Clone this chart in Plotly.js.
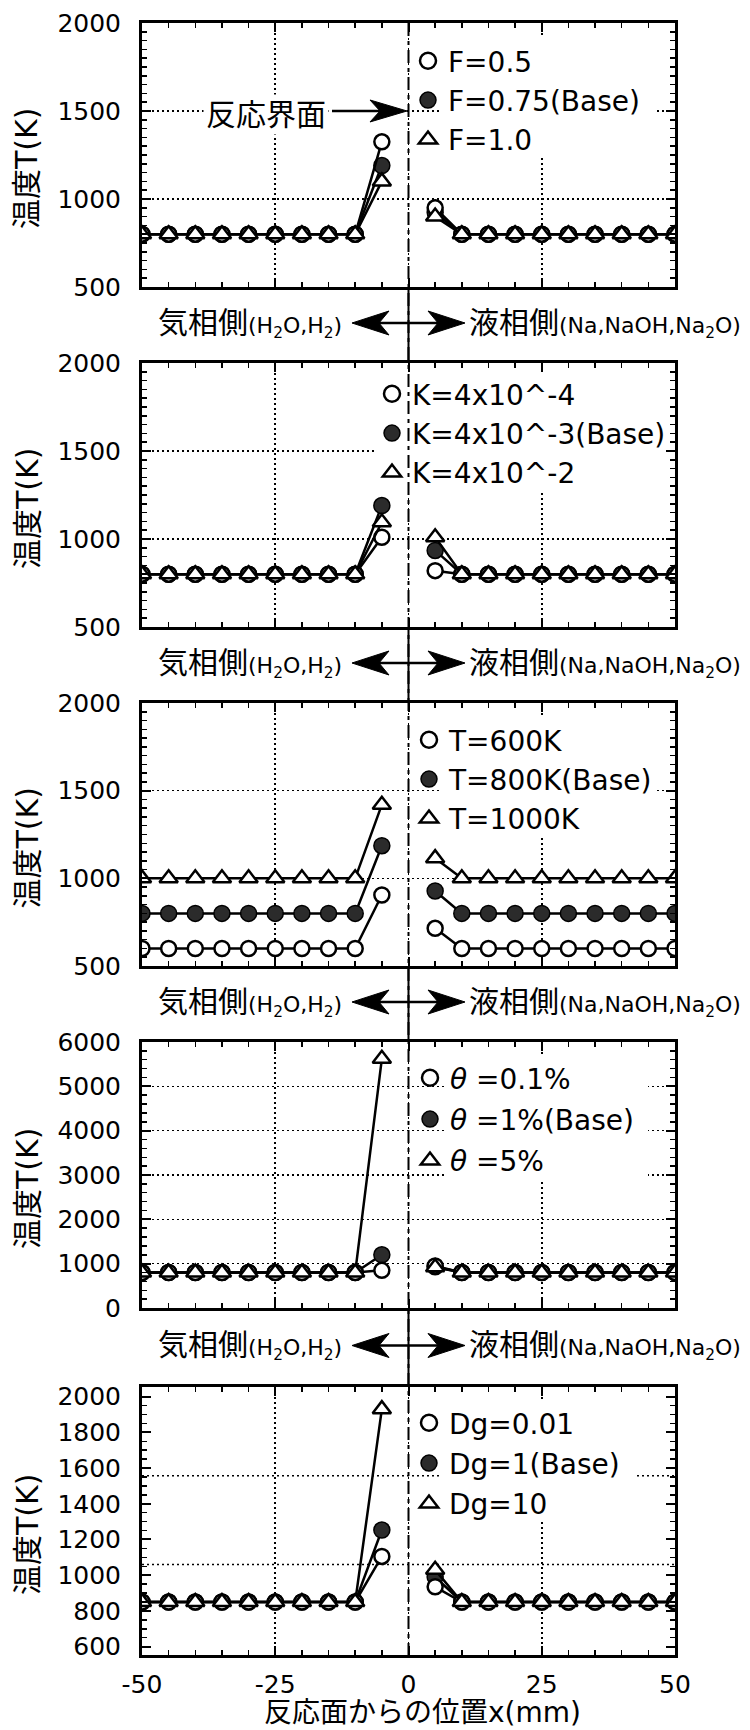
<!DOCTYPE html>
<html><head><meta charset="utf-8">
<script src="https://cdn.plot.ly/plotly-3.0.1.min.js"></script>
<style>body{margin:0;background:#fff}#chart{width:750px;height:1730px}</style>
</head><body><div id="chart"></div>
<script>
// ---------- data ----------
const xGas = [-50,-45,-40,-35,-30,-25,-20,-15,-10,-5];
const xLiq = [5,10,15,20,25,30,35,40,45,50];
const xTickVals = [-50,-25,0,25,50];
const xTickText = ['-50','-25','0','25','50'];

// Panel 1 : F
const namesF = ['F=0.5','F=0.75(Base)','F=1.0'];
const F05_gas  = [800,800,800,800,800,800,800,800,800,1325];
const F05_liq  = [950,800,800,800,800,800,800,800,800,800];
const F075_gas = [800,800,800,800,800,800,800,800,800,1190];
const F075_liq = [925,800,800,800,800,800,800,800,800,800];
const F10_gas  = [800,800,800,800,800,800,800,800,800,1100];
const F10_liq  = [900,800,800,800,800,800,800,800,800,800];

// Panel 2 : K
const namesK = ['K=4x10^-4','K=4x10^-3(Base)','K=4x10^-2'];
const K4m4_gas = [800,800,800,800,800,800,800,800,800,1010];
const K4m4_liq = [820,800,800,800,800,800,800,800,800,800];
const K4m3_gas = [800,800,800,800,800,800,800,800,800,1190];
const K4m3_liq = [935,800,800,800,800,800,800,800,800,800];
const K4m2_gas = [800,800,800,800,800,800,800,800,800,1095];
const K4m2_liq = [1010,800,800,800,800,800,800,800,800,800];

// Panel 3 : T
const namesT = ['T=600K','T=800K(Base)','T=1000K'];
const T600_gas  = [600,600,600,600,600,600,600,600,600,905];
const T600_liq  = [715,600,600,600,600,600,600,600,600,600];
const T800_gas  = [800,800,800,800,800,800,800,800,800,1186];
const T800_liq  = [928,800,800,800,800,800,800,800,800,800];
const T1000_gas = [1000,1000,1000,1000,1000,1000,1000,1000,1000,1420];
const T1000_liq = [1115,1000,1000,1000,1000,1000,1000,1000,1000,1000];

// Panel 4 : theta
const namesTh = ['<i>θ</i> =0.1%','<i>θ</i> =1%(Base)','<i>θ</i> =5%'];
const Th01_gas = [800,800,800,800,800,800,800,800,800,850];
const Th01_liq = [950,800,800,800,800,800,800,800,800,800];
const Th1_gas  = [800,800,800,800,800,800,800,800,800,1200];
const Th1_liq  = [930,800,800,800,800,800,800,800,800,800];
const Th5_gas  = [800,800,800,800,800,800,800,800,800,5620];
const Th5_liq  = [920,800,800,800,800,800,800,800,800,800];

// Panel 5 : Dg
const namesDg = ['Dg=0.01','Dg=1(Base)','Dg=10'];
const Dg001_gas = [850,850,850,850,850,850,850,850,850,1105];
const Dg001_liq = [935,850,850,850,850,850,850,850,850,850];
const Dg1_gas   = [850,850,850,850,850,850,850,850,850,1253];
const Dg1_liq   = [990,850,850,850,850,850,850,850,850,850];
const Dg10_gas  = [850,850,850,850,850,850,850,850,850,1930];
const Dg10_liq  = [1030,850,850,850,850,850,850,850,850,850];

const yTicksA = [500,1000,1500,2000];
const yTicks4 = [0,1000,2000,3000,4000,5000,6000];
const yTicks5 = [600,800,1000,1200,1400,1600,1800,2000];
const grid5   = [1060,1557];

const yTitle = '温度T(K)';
const xTitle = '反応面からの位置x(mm)';
const gasLabel = '気相側';
const gasSpecies = '(H<sub>2</sub>O,H<sub>2</sub>)';
const liqLabel = '液相側';
const liqSpecies = '(Na,NaOH,Na<sub>2</sub>O)';
const interfaceLabel = '反応界面';

// ---------- layout geometry ----------
const W = 750, H = 1730;
const L = 142, R = 675;
const FONT = 'DejaVu Sans, Noto Sans CJK JP, sans-serif';
const panels = [
  {top:23,  bottom:287,  range:[500,2000], ticks:yTicksA, minor:50,  names:namesF,
   series:[[F05_gas,F05_liq],[F075_gas,F075_liq],[F10_gas,F10_liq]],
   leg:{x:408, top:36, gap:0}, mask:[440,655,38,155]},
  {top:363, bottom:627,  range:[500,2000], ticks:yTicksA, minor:50,  names:namesK,
   series:[[K4m4_gas,K4m4_liq],[K4m3_gas,K4m3_liq],[K4m2_gas,K4m2_liq]],
   leg:{x:372, top:369, gap:0}, mask:[376,668,373,492]},
  {top:703, bottom:966,  range:[500,2000], ticks:yTicksA, minor:50,  names:namesT,
   series:[[T600_gas,T600_liq],[T800_gas,T800_liq],[T1000_gas,T1000_liq]],
   leg:{x:409, top:715, gap:0}, mask:[440,655,718,838]},
  {top:1042,bottom:1308, range:[0,6000],   ticks:yTicks4, minor:200, names:namesTh,
   series:[[Th01_gas,Th01_liq],[Th1_gas,Th1_liq],[Th5_gas,Th5_liq]],
   leg:{x:410, top:1053, gap:2}, mask:[445,648,1055,1181]},
  {top:1387,bottom:1655, range:[553,2054], ticks:yTicks5, minor:50,  names:namesDg,
   series:[[Dg001_gas,Dg001_liq],[Dg1_gas,Dg1_liq],[Dg10_gas,Dg10_liq]],
   leg:{x:409, top:1398, gap:1}, mask:[440,636,1400,1521], grid:grid5}
];

const px2fx = p => p / W;
const py2fy = p => 1 - p / H;
const dataX = p => -50 + (p - L) / (R - L) * 100;
function dataY(pn, py){
  const a = panels[pn];
  return a.range[1] - (py - a.top) / (a.bottom - a.top) * (a.range[1] - a.range[0]);
}

const styles = [
  {symbol:'circle', size:15, color:'#ffffff', lw:2.5},
  {symbol:'circle', size:16, color:'#2b2b2b', lw:1.5},
  {symbol:'triangle-up', size:16, color:'#ffffff', lw:2.5}
];
const drawOrder = [1,0,2];

const traces = [];
const layout = {
  width:W, height:H, margin:{l:0,r:0,t:0,b:0},
  paper_bgcolor:'#fff', plot_bgcolor:'rgba(0,0,0,0)',
  font:{family:FONT, color:'#000'},
  showlegend:true, shapes:[], annotations:[]
};

panels.forEach((pn, i) => {
  const k = i + 1;
  const sfx = k === 1 ? '' : String(k);
  const xa = 'x' + sfx, ya = 'y' + sfx;
  const legName = 'legend' + sfx;
  drawOrder.forEach(s => {
    const st = styles[s];
    const mk = {symbol:st.symbol, size:st.size, color:st.color, line:{color:'#000', width:st.lw}};
    traces.push({
      type:'scatter', mode:'lines+markers',
      x: xGas.concat([0], xLiq),
      y: pn.series[s][0].concat([null], pn.series[s][1]),
      connectgaps:false, showlegend:false,
      xaxis:xa, yaxis:ya,
      line:{color:'#000', width:2.5}, marker:mk, hoverinfo:'skip'
    });
  });
  // legend entries (marker only, as in the reference)
  [0,1,2].forEach(s => {
    const st = styles[s];
    traces.push({
      type:'scatter', mode:'markers', x:[null], y:[null],
      xaxis:xa, yaxis:ya, name:pn.names[s], legend:legName,
      legendgroup:'p' + k + 's' + s, showlegend:true,
      marker:{symbol:st.symbol, size:17, color:st.color, line:{color:'#000', width:st.lw}},
      hoverinfo:'skip'
    });
  });
  const dom = [py2fy(pn.bottom), py2fy(pn.top)];
  layout['xaxis' + sfx] = {
    domain:[px2fx(L), px2fx(R)], anchor:ya, range:[-50,50],
    tickmode:'array', tickvals:xTickVals, ticktext:xTickText,
    showticklabels: k === 5, tickfont:{size:25, family:FONT},
    ticklabelstandoff: 5,
    showgrid:true, gridcolor:'#000', gridwidth:1.6, griddash:'2px,3px',
    zeroline:false, showline:true, linecolor:'#000', linewidth:3, mirror:'ticks',
    ticks:'inside', ticklen:9, tickwidth:2, tickcolor:'#000',
    minor:{dtick:5, tick0:0, ticks:'inside', ticklen:5, tickwidth:1.5, tickcolor:'#000', showgrid:false},
    fixedrange:true
  };
  layout['yaxis' + sfx] = {
    domain:dom, anchor:xa, range:pn.range,
    tickmode:'array', tickvals:pn.ticks,
    tickfont:{size:25, family:FONT}, ticklabelstandoff: 13,
    showgrid: !pn.grid, gridcolor:'#000', gridwidth:1.6, griddash:'2px,3px',
    zeroline:false, showline:true, linecolor:'#000', linewidth:3, mirror:'ticks',
    ticks:'inside', ticklen:9, tickwidth:2, tickcolor:'#000',
    minor:{dtick:pn.minor, tick0:0, ticks:'inside', ticklen:5, tickwidth:1.5, tickcolor:'#000', showgrid:false},
    fixedrange:true
  };
  layout[legName] = {
    x: px2fx(pn.leg.x), y: py2fy(pn.leg.top), xanchor:'left', yanchor:'top',
    bgcolor:'rgba(0,0,0,0)', borderwidth:0,
    font:{size:28, family:FONT, color:'#000'},
    tracegroupgap: pn.leg.gap, itemclick:false, itemdoubleclick:false
  };
  // white mask behind legend (hides gridlines only)
  const m = pn.mask;
  layout.shapes.push({type:'rect', xref:xa, yref:ya, layer:'between',
    x0:dataX(m[0]), x1:dataX(m[1]), y0:dataY(i, m[3]), y1:dataY(i, m[2]),
    fillcolor:'#fff', line:{width:0}});
  // custom dotted grid for panel 5
  if (pn.grid) pn.grid.forEach(g => layout.shapes.push({type:'line', xref:xa + ' domain', yref:ya,
    x0:0, x1:1, y0:g, y1:g, layer:'below', line:{color:'#000', width:1.6, dash:'2px,3px'}}));
  // y title
  layout.annotations.push({text:yTitle, xref:'paper', yref: ya + ' domain', x:px2fx(27), y:0.5,
    yshift:-14, textangle:-90, showarrow:false, xanchor:'center', yanchor:'middle',
    font:{size:30, family:FONT}});
});

// x title
layout.annotations.push({text:xTitle, xref:'paper', yref:'paper', x:px2fx(423), y:py2fy(1712),
  showarrow:false, xanchor:'center', yanchor:'middle', font:{size:28, family:FONT}});

// vertical interface line (x = 0) through all panels
layout.shapes.push({type:'line', xref:'x', yref:'paper', x0:0, x1:0,
  y0:py2fy(panels[0].top), y1:py2fy(panels[4].bottom), layer:'above',
  line:{color:'#000', width:2, dash:'13px,5px,4px,5px'}});

function head(tx, ty, dir, len, half, notch){
  const P = (x, y) => px2fx(x).toFixed(5) + ',' + py2fy(y).toFixed(5);
  return 'M' + P(tx, ty) + ' L' + P(tx - dir*len, ty - half) + ' L' + P(tx - dir*notch, ty) +
         ' L' + P(tx - dir*len, ty + half) + ' Z';
}
function addHead(tx, ty, dir, len, half, notch){
  layout.shapes.push({type:'path', xref:'paper', yref:'paper', layer:'above',
    path:head(tx, ty, dir, len, half, notch), fillcolor:'#000', line:{color:'#000', width:1}});
}

// gap labels and double arrows
for (let g = 0; g < 4; g++){
  const yTop = panels[g].bottom, yBot = panels[g+1].top;
  const yc = (yTop + yBot) / 2 - 2;
  layout.shapes.push({type:'line', xref:'x', yref:'paper', x0:0, x1:0, y0:py2fy(yTop), y1:py2fy(yBot),
    layer:'above', line:{color:'#000', width:2}});
  layout.shapes.push({type:'line', xref:'paper', yref:'paper', x0:px2fx(360), x1:px2fx(457),
    y0:py2fy(yc), y1:py2fy(yc), layer:'above', line:{color:'#000', width:2.5}});
  addHead(352, yc, -1, 37, 12, 27);
  addHead(465, yc, 1, 37, 12, 27);
  layout.annotations.push({text: gasLabel + '<span style="font-size:22px">' + gasSpecies + '</span>',
    xref:'paper', yref:'paper', x:px2fx(344), y:py2fy(yc), xanchor:'right', yanchor:'middle',
    showarrow:false, font:{size:30, family:FONT}});
  layout.annotations.push({text: liqLabel + '<span style="font-size:22px">' + liqSpecies + '</span>',
    xref:'paper', yref:'paper', x:px2fx(467), y:py2fy(yc), xanchor:'left', yanchor:'middle',
    showarrow:false, font:{size:30, family:FONT}});
}

// 反応界面 arrow in panel 1
layout.annotations.push({text:interfaceLabel, xref:'paper', yref:'paper', x:px2fx(266), y:py2fy(114),
  xanchor:'center', yanchor:'middle', showarrow:false, bgcolor:'#fff', borderpad:2,
  font:{size:30, family:FONT}});
layout.shapes.push({type:'line', xref:'paper', yref:'paper', x0:px2fx(332), x1:px2fx(385),
  y0:py2fy(111), y1:py2fy(111), layer:'above', line:{color:'#000', width:2.5}});
addHead(407, 111, 1, 37, 11, 27);

Plotly.newPlot('chart', traces, layout, {staticPlot:true});
</script>
</body></html>
